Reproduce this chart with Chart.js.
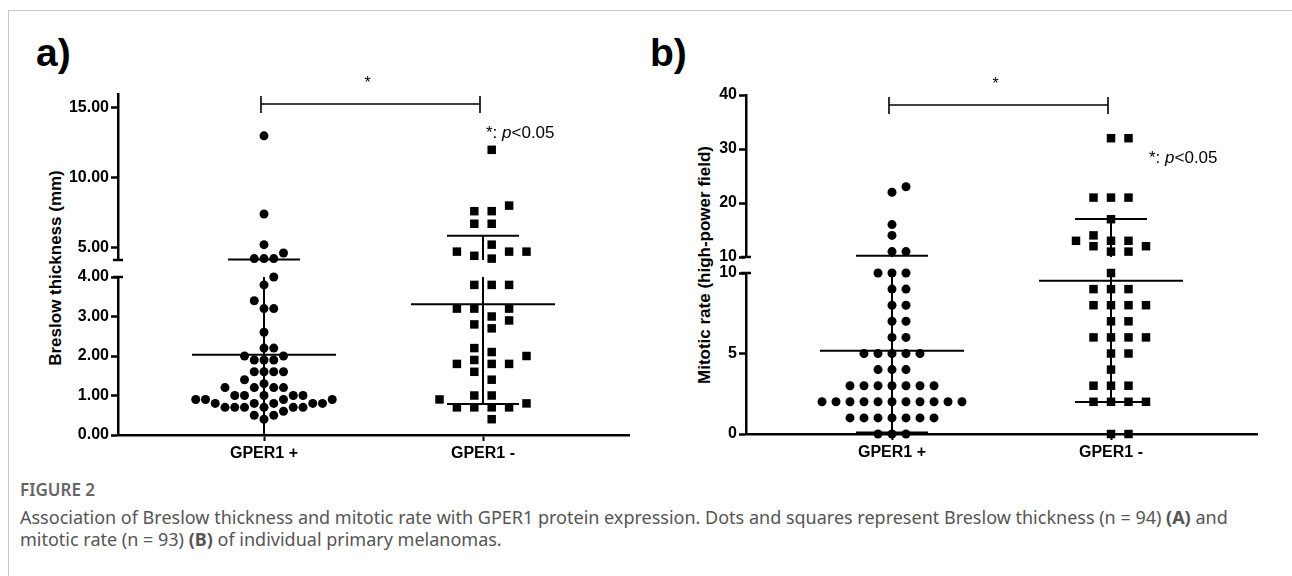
<!DOCTYPE html>
<html>
<head>
<meta charset="utf-8">
<script src="https://cdn.jsdelivr.net/npm/chart.js@4.4.1/dist/chart.umd.min.js"></script>
<style>
  body { margin: 0; width: 1292px; height: 576px; overflow: hidden; position: relative; background: #fff;
         font-family: 'Liberation Sans', Arial, sans-serif; }
  #frame { position: absolute; left: 8px; top: 10px; width: 1300px; height: 600px;
           border-top: 1px solid #c8c8c8; border-left: 1px solid #c8c8c8; }
  canvas { position: absolute; }
  .panel { position: absolute; font-weight: bold; font-size: 39px; line-height: 39px; }
  .ytitle { position: absolute; font-weight: bold; font-size: 17px; white-space: nowrap;
            transform: translate(-50%, -50%) rotate(-90deg); }
  #fig { position: absolute; left: 20px; top: 478px; font-family: 'Noto Sans'; font-size: 17px;
         font-weight: 600; color: #666; }
  #cap { position: absolute; left: 20px; top: 506px; font-family: 'Noto Sans'; font-size: 18px;
         line-height: 22px; color: #555; white-space: nowrap; }
</style>
</head>
<body>
<div id="frame"></div>
<div class="panel" style="left:36px;top:33px">a)</div>
<div class="panel" style="left:650px;top:33px">b)</div>
<div class="ytitle" style="left:56px;top:268px">Breslow thickness (mm)</div>
<div class="ytitle" style="left:705px;top:265px">Mitotic rate (high-power field)</div>
<canvas id="aTop"></canvas>
<canvas id="aBot"></canvas>
<canvas id="bTop"></canvas>
<canvas id="bBot"></canvas>
<div id="fig">FIGURE 2</div>
<div id="cap">Association of Breslow thickness and mitotic rate with GPER1 protein expression. Dots and squares represent Breslow thickness (n = 94) <b>(A)</b> and<br>mitotic rate (n = 93) <b>(B)</b> of individual primary melanomas.</div>

<script>
// Categories and values
const categories = ['GPER1 +', 'GPER1 -'];

// Breslow thickness (mm)
const breslowPos = [13.0, 7.4, 5.2, 4.6, 4.2, 4.2, 4.2,
  4.0, 3.8, 3.4, 3.2, 3.2, 2.6, 2.2, 2.2, 2.0, 2.0, 1.9, 1.9, 1.9,
  1.6, 1.6, 1.6, 1.6, 1.4, 1.3, 1.2, 1.2, 1.2, 1.2,
  1.0, 1.0, 1.0, 1.0, 1.0, 0.9, 0.9, 0.9, 0.9,
  0.8, 0.8, 0.8, 0.8, 0.8, 0.7, 0.7, 0.7, 0.7, 0.7, 0.7, 0.6, 0.5, 0.5, 0.4];
const breslowNeg = [12.0, 8.0, 7.6, 7.6, 6.7, 6.7, 5.2, 4.7, 4.7, 4.7, 4.4, 4.2,
  3.8, 3.8, 3.8, 3.2, 3.2, 3.2, 3.0, 2.9, 2.8, 2.7, 2.2, 2.1, 2.0, 1.9,
  1.8, 1.8, 1.8, 1.6, 1.4, 1.0, 1.0, 0.9, 0.8, 0.7, 0.7, 0.7, 0.7, 0.4];

// Mitotic rate (per high-power field)
const mitoticPos = [23, 22, 16, 14, 11, 11, 10, 10, 10, 9, 9, 8, 8, 7, 7, 6, 6,
  5, 5, 5, 5, 5, 4, 4, 4, 3, 3, 3, 3, 3, 3, 3,
  2, 2, 2, 2, 2, 2, 2, 2, 2, 2, 2, 1, 1, 1, 1, 1, 1, 1, 0, 0, 0];
const mitoticNeg = [32, 32, 21, 21, 21, 17, 14, 13, 13, 13, 12, 12, 11, 11,
  10, 9, 9, 9, 8, 8, 8, 8, 7, 7, 6, 6, 6, 6, 5, 5, 4, 3, 3, 3, 2, 2, 2, 2, 0, 0];

// Axis ticks for each segment of the broken y axes
const breslowTopTicks = [5, 10, 15];
const breslowBotTicks = [0, 1, 2, 3, 4];
const mitoticTopTicks = [10, 20, 30, 40];
const mitoticBotTicks = [0, 5, 10];

// Layout (pixels in the page)
const X_RANGE = [1 / 3, 8 / 3];
const panelA = {
  left: 0, width: 650, axisX: 118, right: 629, brk: 4.0, dec: 2,
  top: { canvasTop: 0, h: 275, areaTop: 94, areaBottom: 260, min: 4.1, max: 16, ticks: breslowTopTicks },
  bot: { canvasTop: 262, h: 205, areaTop: 277, areaBottom: 435, min: 0, max: 4, ticks: breslowBotTicks },
  pText: { dx: 3, dy: 39 }
};
const panelB = {
  left: 640, width: 640, axisX: 746, right: 1257, brk: 10, dec: 0,
  top: { canvasTop: 0, h: 275, areaTop: 95, areaBottom: 257, min: 10, max: 40, ticks: mitoticTopTicks },
  bot: { canvasTop: 259, h: 208, areaTop: 273, areaBottom: 434, min: 0, max: 10, ticks: mitoticBotTicks },
  pText: { dx: 38, dy: 63 }
};

Chart.defaults.font.family = "'Liberation Sans', Arial, sans-serif";
Chart.defaults.color = '#000';

function meanSd(values) {
  const m = values.reduce((s, v) => s + v, 0) / values.length;
  const v = values.reduce((s, x) => s + (x - m) * (x - m), 0) / (values.length - 1);
  return { mean: m, sd: Math.sqrt(v) };
}

// simple column beeswarm: same column points must be at least minDist px apart
function swarm(values, pxPerUnit, phase, minDist) {
  const order = values.map((v, i) => i).sort((a, b) => values[a] - values[b]);
  const placed = [];
  const cols = new Array(values.length);
  order.forEach(i => {
    const v = values[i];
    for (let k = 0; k < 200; k++) {
      let c;
      if (phase === 0) c = k === 0 ? 0 : (k % 2 ? (k + 1) / 2 : -k / 2);
      else c = (k % 2 ? -1 : 1) * (Math.floor(k / 2) + 0.5);
      const hit = placed.some(p => p.col === c && Math.abs(p.v - v) * pxPerUnit < minDist);
      if (!hit) { placed.push({ v, col: c }); cols[i] = c; break; }
    }
  });
  return cols;
}

function line(ctx, x1, y1, x2, y2) {
  ctx.beginPath(); ctx.moveTo(x1, y1); ctx.lineTo(x2, y2); ctx.stroke();
}

const overlay = {
  id: 'overlay',
  beforeDatasetsDraw(chart, args, o) {
    const { ctx, scales: { x, y } } = chart;
    ctx.save();
    ctx.strokeStyle = '#000';
    ctx.lineWidth = 2;
    o.stats.forEach((g, gi) => {
      const cx = x.getPixelForValue(gi + 1);
      const a = Math.max(g.mean - g.sd, y.min), b = Math.min(g.mean + g.sd, y.max);
      if (b > a) line(ctx, cx, y.getPixelForValue(a), cx, y.getPixelForValue(b));
      [[g.mean, o.meanHalf], [g.mean - g.sd, o.capHalf], [g.mean + g.sd, o.capHalf]].forEach(([v, h]) => {
        if (v >= y.min && v <= y.max) {
          const py = y.getPixelForValue(v);
          line(ctx, cx - h, py, cx + h, py);
        }
      });
    });
    ctx.restore();
  },
  afterDatasetsDraw(chart, args, o) {
    const { ctx, chartArea: area, scales: { x } } = chart;
    ctx.save();
    ctx.strokeStyle = '#000';
    ctx.fillStyle = '#000';
    // axis break caps
    ctx.lineWidth = 2.5;
    const by = o.seg === 'top' ? area.bottom : area.top;
    line(ctx, area.left - 5, by, area.left + 5, by);
    if (o.seg === 'top') {
      const x1 = x.getPixelForValue(1) - 3, x2 = x.getPixelForValue(2) - 3;
      const yb = area.top + 10;
      ctx.lineWidth = 1.6;
      line(ctx, x1, yb, x2, yb);
      line(ctx, x1, area.top + 2, x1, area.top + 19);
      line(ctx, x2, area.top + 2, x2, area.top + 19);
      ctx.font = '16px "Liberation Sans", Arial, sans-serif';
      ctx.textAlign = 'center';
      ctx.textBaseline = 'middle';
      ctx.fillText('*', (x1 + x2) / 2 - 3, area.top - 10);
      // "*: p<0.05"
      const px = x.getPixelForValue(2) + o.pText.dx, py = area.top + o.pText.dy;
      ctx.textAlign = 'left';
      const reg = '17px "Liberation Sans", Arial, sans-serif';
      const ita = 'italic 17px "Liberation Sans", Arial, sans-serif';
      let cx = px;
      [['*: ', reg], ['p', ita], ['<0.05', reg]].forEach(([t, f]) => {
        ctx.font = f; ctx.fillText(t, cx, py); cx += ctx.measureText(t).width;
      });
    }
    ctx.restore();
  }
};
Chart.register(overlay);

function segChart(id, P, seg, groups) {
  const S = P[seg];
  const cv = document.getElementById(id);
  cv.width = P.width; cv.height = S.h;
  cv.style.left = P.left + 'px'; cv.style.top = S.canvasTop + 'px';
  const areaTop = S.areaTop - S.canvasTop, areaBottom = S.areaBottom - S.canvasTop;
  const yW = P.axisX - P.left;
  const xH = seg === 'bot' ? 30 : 0;
  const pxPerY = (S.areaBottom - S.areaTop) / (S.max - S.min);
  const pxPerX = (P.right - P.axisX) / (X_RANGE[1] - X_RANGE[0]);

  const datasets = groups.map((g, gi) => {
    const vals = g.values.filter(v => seg === 'top' ? v > P.brk : v <= P.brk);
    const cols = swarm(vals, pxPerY, g.phase, 10);
    return {
      data: vals.map((v, i) => ({ x: gi + 1 + cols[i] * g.step / pxPerX, y: v })),
      pointStyle: g.shape, pointRadius: g.radius, pointHoverRadius: g.radius,
      backgroundColor: '#000', borderWidth: 0, clip: false
    };
  });

  const tickFont = { size: 16, weight: 'bold' };
  return new Chart(cv, {
    type: 'scatter',
    data: { datasets },
    options: {
      responsive: false, animation: false, events: [],
      layout: { padding: { left: 0, right: P.width - (P.right - P.left), top: areaTop, bottom: S.h - areaBottom - xH } },
      plugins: {
        legend: { display: false }, tooltip: { enabled: false },
        overlay: { seg, stats: groups.map(g => meanSd(g.values)), meanHalf: 72, capHalf: 36, pText: P.pText }
      },
      scales: {
        x: {
          type: 'linear', min: X_RANGE[0], max: X_RANGE[1], bounds: 'data', display: seg === 'bot',
          afterFit: s => { s.height = xH; },
          afterBuildTicks: ax => { ax.ticks = categories.map((c, i) => ({ value: i + 1 })); },
          ticks: { callback: (v, i) => categories[i], font: tickFont, color: '#000', padding: 3, maxRotation: 0, autoSkip: false },
          grid: { drawOnChartArea: false, drawTicks: true, tickLength: 6, tickWidth: 2, tickColor: '#000' },
          border: { color: '#000', width: 2.5 }
        },
        y: {
          type: 'linear', min: S.min, max: S.max, bounds: 'data',
          afterFit: s => { s.width = yW; },
          afterBuildTicks: ax => { ax.ticks = S.ticks.map(v => ({ value: v })); },
          ticks: { callback: v => v.toFixed(P.dec), font: tickFont, color: '#000', padding: 2, autoSkip: false },
          grid: { drawOnChartArea: false, drawTicks: true, tickLength: 7, tickWidth: 2.5, tickColor: '#000' },
          border: { color: '#000', width: 2.5 }
        }
      }
    }
  });
}

const groupsA = [
  { values: breslowPos, shape: 'circle', radius: 4.5, step: 9.75, phase: 0 },
  { values: breslowNeg, shape: 'rect', radius: 6, step: 17.4, phase: 0.5 }
];
const groupsB = [
  { values: mitoticPos, shape: 'circle', radius: 4.5, step: 14, phase: 0 },
  { values: mitoticNeg, shape: 'rect', radius: 6, step: 17.5, phase: 0 }
];

segChart('aTop', panelA, 'top', groupsA);
segChart('aBot', panelA, 'bot', groupsA);
segChart('bTop', panelB, 'top', groupsB);
segChart('bBot', panelB, 'bot', groupsB);
</script>
</body>
</html>
